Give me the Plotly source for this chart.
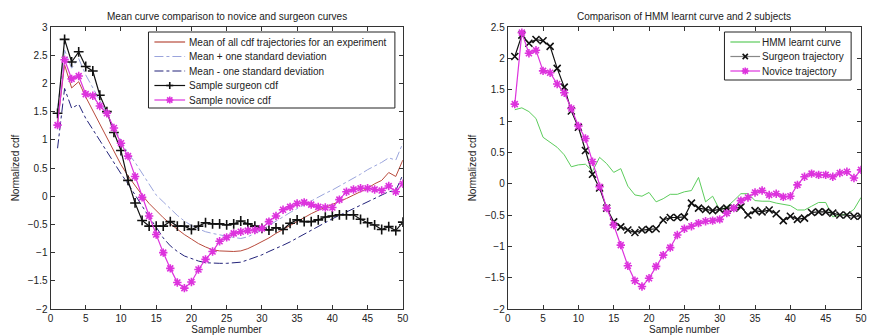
import plotly.graph_objects as go
from plotly.subplots import make_subplots

samples = list(range(1, 51))

# Left chart
mean_all = [1.30, 2.33, 1.92, 2.03, 1.76, 1.52, 1.28, 1.04, 0.80, 0.56,
            0.36, 0.18, 0.02, -0.13, -0.26, -0.38, -0.49, -0.59, -0.68, -0.76,
            -0.84, -0.90, -0.95, -0.97, -0.98, -0.98, -0.97, -0.93, -0.87, -0.81,
            -0.74, -0.66, -0.59, -0.51, -0.44, -0.37, -0.31, -0.25, -0.20, -0.15,
            -0.10, -0.04, 0.02, 0.08, 0.14, 0.22, 0.28, 0.42, 0.35, 0.64]
mean_plus_sd = [1.55, 2.59, 2.27, 2.44, 2.15, 1.92, 1.71, 1.47, 1.22, 0.98,
                0.76, 0.60, 0.41, 0.21, 0.02, -0.10, -0.22, -0.34, -0.44, -0.52,
                -0.58, -0.63, -0.66, -0.69, -0.71, -0.73, -0.75, -0.72, -0.66, -0.60,
                -0.52, -0.44, -0.36, -0.29, -0.22, -0.15, -0.08, -0.02, 0.05, 0.11,
                0.18, 0.25, 0.31, 0.39, 0.47, 0.53, 0.60, 0.68, 0.64, 0.94]
mean_minus_sd = [0.85, 1.91, 1.56, 1.63, 1.38, 1.18, 1.00, 0.80, 0.60, 0.40,
                 0.22, 0.02, -0.17, -0.37, -0.55, -0.74, -0.88, -0.98, -1.06, -1.11,
                 -1.15, -1.18, -1.19, -1.19, -1.19, -1.18, -1.17, -1.13, -1.09, -1.04,
                 -0.98, -0.93, -0.87, -0.81, -0.74, -0.67, -0.60, -0.54, -0.47, -0.40,
                 -0.34, -0.28, -0.22, -0.16, -0.10, -0.05, 0.02, 0.08, 0.10, 0.38]
surgeon_left = [1.47, 2.78, 2.38, 2.56, 2.30, 2.22, 1.79, 1.50, 1.13, 0.81,
                0.28, -0.12, -0.43, -0.53, -0.53, -0.53, -0.45, -0.53, -0.53, -0.59,
                -0.53, -0.47, -0.49, -0.49, -0.51, -0.49, -0.44, -0.49, -0.53, -0.57,
                -0.60, -0.56, -0.59, -0.48, -0.42, -0.45, -0.45, -0.42, -0.37, -0.35,
                -0.33, -0.33, -0.33, -0.41, -0.47, -0.51, -0.59, -0.54, -0.61, -0.46]
novice_left = [1.26, 2.42, 2.08, 2.13, 1.81, 1.78, 1.60, 1.47, 1.21, 0.94,
               0.71, 0.35, -0.02, -0.35, -0.68, -1.00, -1.28, -1.53, -1.63, -1.52,
               -1.30, -1.12, -0.98, -0.80, -0.73, -0.66, -0.63, -0.61, -0.60, -0.57,
               -0.45, -0.35, -0.24, -0.19, -0.13, -0.11, -0.15, -0.19, -0.20, -0.20,
               -0.06, 0.08, 0.12, 0.14, 0.14, 0.12, 0.10, 0.18, 0.08, 0.22]

# Right chart
hmm_curve = [1.18, 1.21, 1.15, 1.04, 0.74, 0.66, 0.58, 0.46, 0.27, 0.30,
             0.31, 0.20, 0.42, 0.32, 0.18, 0.24, -0.04, -0.18, -0.20, -0.14,
             -0.29, -0.24, -0.17, -0.17, -0.13, -0.11, 0.10, -0.29, -0.20, -0.42,
             -0.37, -0.27, -0.16, -0.16, -0.27, -0.28, -0.28, -0.31, -0.33, -0.35,
             -0.42, -0.42, -0.36, -0.30, -0.30, -0.53, -0.50, -0.49, -0.41, -0.22]
surgeon_right = [2.03, 2.37, 2.24, 2.30, 2.28, 2.19, 1.84, 1.54, 1.16, 0.90,
                 0.53, 0.15, -0.07, -0.39, -0.61, -0.69, -0.74, -0.78, -0.74, -0.73,
                 -0.72, -0.58, -0.54, -0.54, -0.53, -0.31, -0.39, -0.41, -0.43, -0.41,
                 -0.39, -0.39, -0.37, -0.50, -0.43, -0.45, -0.42, -0.48, -0.59, -0.52,
                 -0.57, -0.55, -0.46, -0.45, -0.45, -0.47, -0.50, -0.50, -0.52, -0.52]
novice_right = [1.27, 2.41, 2.08, 2.13, 1.80, 1.77, 1.59, 1.45, 1.20, 0.92,
                0.72, 0.35, -0.05, -0.39, -0.66, -0.98, -1.31, -1.55, -1.64, -1.51,
                -1.32, -1.14, -1.02, -0.82, -0.72, -0.68, -0.63, -0.60, -0.59, -0.57,
                -0.47, -0.39, -0.27, -0.22, -0.14, -0.11, -0.18, -0.16, -0.21, -0.20,
                -0.02, 0.11, 0.16, 0.14, 0.14, 0.11, 0.17, 0.19, 0.09, 0.22]

titles = ["Mean curve comparison to novice and surgeon curves",
          "Comparison of HMM learnt curve and 2 subjects"]
left_names = ["Mean of all cdf trajectories for an experiment",
              "Mean + one standard deviation",
              "Mean - one standard deviation",
              "Sample surgeon cdf",
              "Sample novice cdf"]
right_names = ["HMM learnt curve", "Surgeon trajectory", "Novice trajectory"]
x_ticks = list(range(0, 51, 5))
y_ticks_left = [-2, -1.5, -1, -0.5, 0, 0.5, 1, 1.5, 2, 2.5, 3]
y_ticks_right = [-2, -1.5, -1, -0.5, 0, 0.5, 1, 1.5, 2, 2.5]

# ---- styling / layout ----
W, H, T, B = 870, 335, 27, 26
FONT = "Liberation Sans, Arial, sans-serif"
TXT = "#222222"
MAG = "#dd33dd"
BLK = "#111111"
C_MEAN = "#b84a3c"
C_PLUS = "#9aa4dc"
C_MINUS = "#23237a"
C_HMM = "#5ccc5c"

styles_left = [
    dict(color=C_MEAN, dash="solid", marker=None),
    dict(color=C_PLUS, dash="dashdot", marker=None),
    dict(color=C_MINUS, dash="dashdot", marker=None),
    dict(color=BLK, dash="solid", marker="cross-thin"),
    dict(color=MAG, dash="solid", marker="asterisk"),
]
styles_right = [
    dict(color=C_HMM, dash="solid", marker=None),
    dict(color=BLK, dash="solid", marker="x-thin"),
    dict(color=MAG, dash="solid", marker="asterisk"),
]


def make_trace(y, name, st):
    has_m = st["marker"] is not None
    tr = go.Scatter(x=samples, y=y, name=name, showlegend=False,
                    mode="lines+markers" if has_m else "lines",
                    line=dict(color=st["color"], width=1.2 if has_m else 1, dash=st["dash"]))
    if has_m:
        tr.marker = dict(symbol=st["marker"], size=7, color=st["color"],
                         line=dict(color=st["color"], width=1.6))
    return tr


fig = make_subplots(rows=1, cols=2)
for y, n, st in zip([mean_all, mean_plus_sd, mean_minus_sd, surgeon_left, novice_left],
                    left_names, styles_left):
    fig.add_trace(make_trace(y, n, st), 1, 1)
for y, n, st in zip([hmm_curve, surgeon_right, novice_right], right_names, styles_right):
    fig.add_trace(make_trace(y, n, st), 1, 2)

axis_common = dict(showgrid=False, zeroline=False, showline=True, linecolor="#333333",
                   linewidth=1, mirror="allticks", ticks="inside", ticklen=4,
                   tickcolor="#333333", tickfont=dict(size=10, color=TXT, family=FONT))
fig.update_xaxes(axis_common)
fig.update_yaxes(axis_common)
doms = [[48 / W, 404 / W], [510 / W, 867 / W]]
for c in (1, 2):
    fig.update_xaxes(range=[0, 50], tickvals=x_ticks, domain=doms[c - 1],
                     title=dict(text="Sample number", font=dict(size=10, family=FONT, color=TXT),
                                standoff=1),
                     row=1, col=c)
fig.update_yaxes(range=[-2, 3], tickvals=y_ticks_left,
                 title=dict(text="Normalized cdf", font=dict(size=10, family=FONT, color=TXT), standoff=6),
                 row=1, col=1)
fig.update_yaxes(range=[-2, 2.5], tickvals=y_ticks_right,
                 title=dict(text="Normalized cdf", font=dict(size=10, family=FONT, color=TXT), standoff=6),
                 row=1, col=2)

for i, t in enumerate(titles):
    fig.add_annotation(text=t, x=(doms[i][0] + doms[i][1]) / 2, y=1, xref="paper", yref="paper",
                       yanchor="bottom", xanchor="center", showarrow=False, yshift=3,
                       font=dict(size=10, family=FONT, color=TXT))


# ---- hand-drawn legend boxes (pixel positions converted to paper coords) ----
def px_x(px):
    return px / W


def px_y(py):
    return (H - B - py) / (H - T - B)


def marker_shapes(cx, cy, kind, color):
    shapes = []
    r = 3.5
    segs = []
    if kind in ("cross-thin", "asterisk"):
        segs += [(-r, 0, r, 0), (0, -r, 0, r)]
    if kind in ("x-thin", "asterisk"):
        d = r * 0.75
        segs += [(-d, -d, d, d), (-d, d, d, -d)]
    for x0, y0, x1, y1 in segs:
        shapes.append(dict(type="line", xref="paper", yref="paper",
                           xsizemode="pixel", ysizemode="pixel",
                           xanchor=px_x(cx), yanchor=px_y(cy),
                           x0=x0, x1=x1, y0=y0, y1=y1,
                           line=dict(color=color, width=1.6)))
    return shapes


def draw_legend(box, names, styles, row_y, line_x, text_x):
    x0, y0, x1, y1 = box
    fig.add_shape(type="rect", xref="paper", yref="paper",
                  x0=px_x(x0), x1=px_x(x1), y0=px_y(y1), y1=px_y(y0),
                  line=dict(color="#222222", width=1), fillcolor="white", layer="above")
    for name, st, ry in zip(names, styles, row_y):
        lc = "#888888" if st["marker"] == "x-thin" else st["color"]
        fig.add_shape(type="line", xref="paper", yref="paper",
                      x0=px_x(line_x[0]), x1=px_x(line_x[1]), y0=px_y(ry), y1=px_y(ry),
                      line=dict(color=lc, width=1.2, dash=st["dash"]), layer="above")
        if st["marker"]:
            for s in marker_shapes((line_x[0] + line_x[1]) / 2, ry, st["marker"], st["color"]):
                s["layer"] = "above"
                fig.add_shape(**s)
        fig.add_annotation(text=name, x=px_x(text_x), y=px_y(ry), xref="paper", yref="paper",
                           xanchor="left", yanchor="middle", showarrow=False,
                           font=dict(size=10, family=FONT, color=TXT))


draw_legend((147, 32, 396, 108), left_names, styles_left,
            [42, 56.5, 71, 85.5, 100], (153, 184), 186)
draw_legend((729, 32, 857, 80), right_names, styles_right,
            [42, 56.5, 71], (735, 765), 765)

fig.update_layout(
    width=W, height=H,
    margin=dict(l=0, r=0, t=T, b=B),
    paper_bgcolor="white", plot_bgcolor="white",
    showlegend=False,
)

fig.write_html("out.html", config={"displayModeBar": False},
               post_script="document.body.style.margin='0';")
